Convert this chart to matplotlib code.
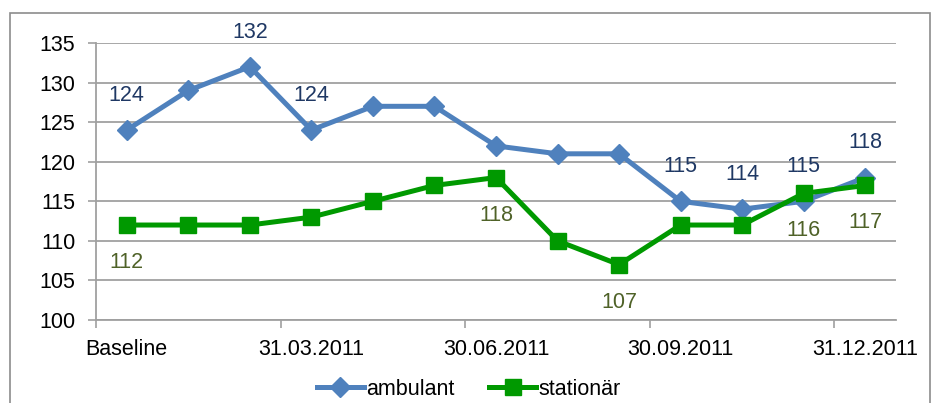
import matplotlib.pyplot as plt
from matplotlib.patches import Rectangle

# data
ambulant = [124, 129, 132, 124, 127, 127, 122, 121, 121, 115, 114, 115, 118]
stationaer = [112, 112, 112, 113, 115, 117, 118, 110, 107, 112, 112, 116, 117]
tick_labels = ['Baseline', '31.03.2011', '30.06.2011', '30.09.2011', '31.12.2011']
amb_labelled = [0, 2, 3, 9, 10, 11, 12]
sta_labelled = [0, 6, 8, 11, 12]

plt.rcParams['font.family'] = ['Liberation Sans', 'DejaVu Sans']
fs = 15.5

fig = plt.figure(figsize=(9.4, 4.03), dpi=100)
ax = fig.add_axes([96/940, 1 - 320/403, 800/940, 277/403])

x = list(range(len(ambulant)))
ax.plot(x, ambulant, color='#4F81BD', lw=3.6, marker='D', ms=10,
        label='ambulant', zorder=3)
ax.plot(x, stationaer, color='#009900', lw=3.6, marker='s', ms=11.5,
        label='stationär', zorder=4)

for i in amb_labelled:
    ax.annotate(str(ambulant[i]), (i, ambulant[i]), xytext=(0, 25),
                textcoords='offset points', ha='center', va='center',
                fontsize=fs, color='#1F3864')
for i in sta_labelled:
    ax.annotate(str(stationaer[i]), (i, stationaer[i]), xytext=(0, -27),
                textcoords='offset points', ha='center', va='center',
                fontsize=fs, color='#4F6228')

ax.set_xlim(-0.5, len(ambulant) - 0.5)
ax.set_ylim(100, 135)
ax.set_yticks(range(100, 136, 5))
ax.set_xticks([0, 3, 6, 9, 12])
ax.set_xticklabels(tick_labels)
ax.set_xticks([-0.5, 2.5, 5.5, 8.5, 11.5], minor=True)
ax.tick_params(axis='x', which='major', length=0, pad=14, labelsize=fs)
ax.tick_params(axis='x', which='minor', length=6, color='#A0A0A0', width=1.2)
ax.tick_params(axis='y', length=6, color='#A0A0A0', width=1.2, labelsize=fs, pad=9)

ax.grid(axis='y', color='#A0A0A0', lw=1.3)
ax.set_axisbelow(True)
for s in ['top', 'right']:
    ax.spines[s].set_visible(False)
for s in ['left', 'bottom']:
    ax.spines[s].set_color('#A0A0A0')
    ax.spines[s].set_linewidth(1.3)

ax.legend(loc='center', bbox_to_anchor=(0.466, -0.25), ncol=2, frameon=False,
          fontsize=fs, handlelength=2.2, handletextpad=0.1, columnspacing=1.6,
          borderaxespad=0)

fig.patches.append(Rectangle((10/940, -0.1), 920/940, 1.1 - 13/403,
                             transform=fig.transFigure, fill=False,
                             edgecolor='#8C8C8C', lw=1.2))

fig.savefig('out.png', dpi=100)
